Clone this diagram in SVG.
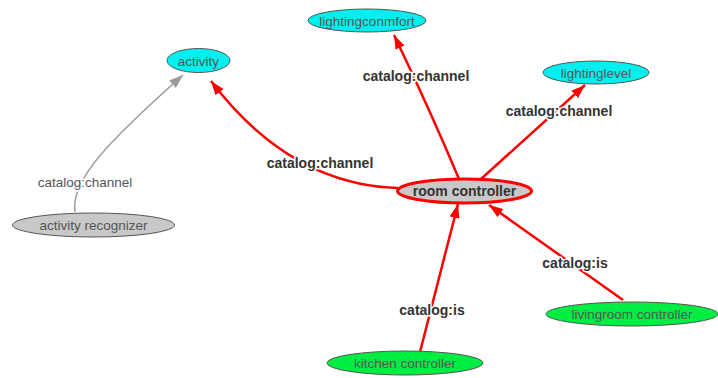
<svg xmlns="http://www.w3.org/2000/svg" width="718" height="378" viewBox="0 0 718 378">
<style>
.n ellipse{stroke:#555;stroke-width:1}
.cy{fill:#00f0f0}
.gr{fill:#00ee44}
.gy{fill:#c8c8c8}
.nt{font-family:"Liberation Sans",Arial,sans-serif;font-size:13.5px;fill:#555;text-anchor:middle}
.e{fill:none;stroke:#f00;stroke-width:2.5}
.eg{fill:none;stroke:#999;stroke-width:1.5}
.el{font-family:"Liberation Sans",Arial,sans-serif;font-size:14px;font-weight:bold;fill:#333;text-anchor:middle;stroke:#fff;stroke-width:3;paint-order:stroke;stroke-linejoin:round}
.elg{font-family:"Liberation Sans",Arial,sans-serif;font-size:13.5px;fill:#555;text-anchor:middle;stroke:#fff;stroke-width:3;paint-order:stroke;stroke-linejoin:round}
</style>
<defs>
<marker id="ar" viewBox="0 0 14 10" refX="14" refY="5" markerWidth="14" markerHeight="10" markerUnits="userSpaceOnUse" orient="auto"><path d="M0,0 L14,5 L0,10 z" fill="#f00"/></marker>
<marker id="ag" viewBox="0 0 14 10" refX="14" refY="5" markerWidth="14" markerHeight="10" markerUnits="userSpaceOnUse" orient="auto"><path d="M0,0 L14,5 L0,10 z" fill="#999"/></marker>
</defs>
<rect width="718" height="378" fill="#fff"/>
<g id="connectors">
<path class="eg" d="M75,212 C70,180 110,140 183,75" marker-end="url(#ag)"/>
<path class="e" d="M398,188 Q290,185 211,81" marker-end="url(#ar)"/>
<path class="e" d="M459,179 Q430,110 394,35" marker-end="url(#ar)"/>
<path class="e" d="M481,179 L585,85" marker-end="url(#ar)"/>
<path class="e" d="M623,300 L489,205" marker-end="url(#ar)"/>
<path class="e" d="M420,352 L458,204" marker-end="url(#ar)"/>
<text class="elg" x="85" y="187">catalog:channel</text>
<text class="el" x="320" y="168">catalog:channel</text>
<text class="el" x="416" y="81">catalog:channel</text>
<text class="el" x="559" y="116">catalog:channel</text>
<text class="el" x="575" y="268">catalog:is</text>
<text class="el" x="432" y="315">catalog:is</text>
</g>
<g id="activity" class="n"><ellipse class="cy" cx="198.5" cy="60.5" rx="31.5" ry="12"/><text class="nt" x="198.5" y="65.5">activity</text></g>
<g id="lightingconmfort" class="n"><ellipse class="cy" cx="367" cy="20.5" rx="59" ry="11.5"/><text class="nt" x="367" y="25.5">lightingconmfort</text></g>
<g id="lightinglevel" class="n"><ellipse class="cy" cx="596" cy="72.5" rx="53" ry="11.5"/><text class="nt" x="596" y="77.5">lightinglevel</text></g>
<g id="room-controller" class="n"><ellipse class="gy" cx="464.5" cy="191" rx="67" ry="12" style="stroke:#f00;stroke-width:3"/><text class="nt" x="464.5" y="196" style="font-size:14px;font-weight:bold;fill:#333">room controller</text></g>
<g id="activity-recognizer" class="n"><ellipse class="gy" cx="93.5" cy="225" rx="81" ry="12"/><text class="nt" x="93.5" y="230">activity recognizer</text></g>
<g id="livingroom-controller" class="n"><ellipse class="gr" cx="632" cy="314" rx="86" ry="12"/><text class="nt" x="632" y="319">livingroom controller</text></g>
<g id="kitchen-controller" class="n"><ellipse class="gr" cx="405" cy="363" rx="78" ry="12"/><text class="nt" x="405" y="368">kitchen controller</text></g>
</svg>
